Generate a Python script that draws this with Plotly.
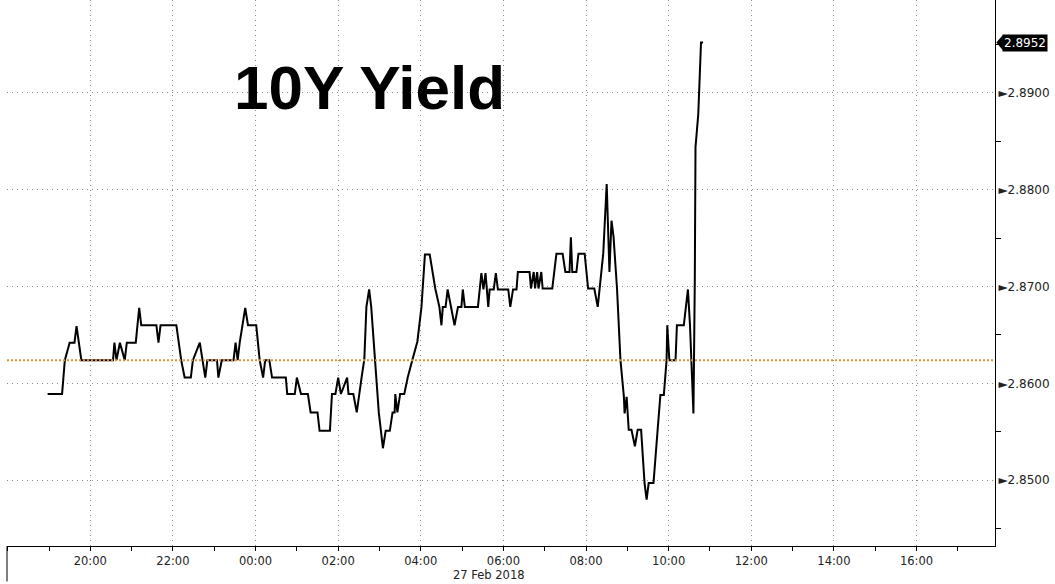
import plotly.graph_objects as go

# intraday 10Y yield, 26-27 Feb 2018
TIMES = [
    "18:58", "19:19", "19:23", "19:30", "19:37", "19:40", "19:47", "20:33", "20:35", "20:38",
    "20:43", "20:50", "20:53", "21:06", "21:11", "21:14", "21:36", "21:39", "21:42", "22:05",
    "22:12", "22:17", "22:26", "22:29", "22:39", "22:47", "22:50", "23:04", "23:06", "23:11",
    "23:28", "23:31", "23:34", "23:37", "23:45", "23:49", "00:01", "00:06", "00:11", "00:14",
    "00:20", "00:24", "00:44", "00:46", "00:57", "01:00", "01:06", "01:16", "01:20", "01:30",
    "01:33", "01:48", "01:51", "01:56", "02:00", "02:04", "02:13", "02:15", "02:22", "02:27",
    "02:34", "02:38", "02:41", "02:45", "02:48", "02:55", "02:59", "03:05", "03:09", "03:15",
    "03:19", "03:22", "03:23", "03:26", "03:30", "03:36", "03:41", "03:48", "03:55", "04:01",
    "04:06", "04:13", "04:21", "04:27", "04:30", "04:32", "04:36", "04:39", "04:44", "04:49",
    "04:54", "04:59", "05:01", "05:04", "05:23", "05:28", "05:31", "05:34", "05:38", "05:40",
    "05:46", "05:49", "05:52", "06:07", "06:10", "06:14", "06:19", "06:21", "06:38", "06:40",
    "06:44", "06:46", "06:49", "06:51", "06:55", "06:57", "07:11", "07:17", "07:26", "07:30",
    "07:36", "07:38", "07:40", "07:46", "07:49", "07:58", "08:03", "08:12", "08:17", "08:20",
    "08:25", "08:30", "08:34", "08:37", "08:40", "08:45", "08:50", "08:55", "08:56", "08:59",
    "09:02", "09:06", "09:11", "09:15", "09:20", "09:25", "09:28", "09:31", "09:38", "09:44",
    "09:48", "09:53", "09:57", "09:58", "10:01", "10:10", "10:12", "10:22", "10:28", "10:31",
    "10:34", "10:36", "10:38", "10:39", "10:43", "10:45", "10:47", "10:50",
]
YIELDS = [
    2.8589, 2.8589, 2.8624, 2.8642, 2.8642, 2.8659, 2.8624, 2.8624, 2.8642, 2.8624,
    2.8642, 2.8624, 2.8642, 2.8642, 2.8678, 2.8660, 2.8660, 2.8642, 2.8660, 2.8660,
    2.8624, 2.8606, 2.8606, 2.8624, 2.8642, 2.8606, 2.8624, 2.8624, 2.8606, 2.8624,
    2.8624, 2.8642, 2.8624, 2.8642, 2.8678, 2.8660, 2.8660, 2.8624, 2.8606, 2.8624,
    2.8624, 2.8606, 2.8606, 2.8589, 2.8589, 2.8606, 2.8589, 2.8589, 2.8570, 2.8570,
    2.8551, 2.8551, 2.8589, 2.8589, 2.8606, 2.8589, 2.8606, 2.8589, 2.8589, 2.8570,
    2.8606, 2.8625, 2.8679, 2.8697, 2.8679, 2.8606, 2.8570, 2.8533, 2.8551, 2.8551,
    2.8570, 2.8570, 2.8589, 2.8570, 2.8589, 2.8589, 2.8606, 2.8625, 2.8643, 2.8679,
    2.8733, 2.8733, 2.8698, 2.8679, 2.8660, 2.8679, 2.8679, 2.8697, 2.8679, 2.8660,
    2.8679, 2.8679, 2.8697, 2.8679, 2.8679, 2.8714, 2.8697, 2.8714, 2.8679, 2.8697,
    2.8697, 2.8714, 2.8697, 2.8697, 2.8679, 2.8697, 2.8697, 2.8715, 2.8715, 2.8698,
    2.8715, 2.8698, 2.8715, 2.8698, 2.8715, 2.8698, 2.8698, 2.8734, 2.8734, 2.8715,
    2.8715, 2.8751, 2.8715, 2.8715, 2.8734, 2.8734, 2.8698, 2.8698, 2.8679, 2.8698,
    2.8734, 2.8806, 2.8715, 2.8768, 2.8751, 2.8698, 2.8624, 2.8586, 2.8569, 2.8586,
    2.8552, 2.8552, 2.8535, 2.8552, 2.8552, 2.8497, 2.8480, 2.8497, 2.8497, 2.8552,
    2.8588, 2.8588, 2.8624, 2.8660, 2.8624, 2.8624, 2.8660, 2.8660, 2.8697, 2.8660,
    2.8605, 2.8569, 2.8707, 2.8844, 2.8878, 2.8925, 2.8952, 2.8952,
]
REF_LEVEL = 2.8624          # orange dotted line
Y_TICKS = [2.85, 2.86, 2.87, 2.88, 2.89]
Y_MINOR = [2.845, 2.855, 2.865, 2.875, 2.885, 2.895]
X_RANGE = ["2018-02-26 17:59", "2018-02-27 17:54"]
Y_RANGE = [2.8432, 2.8996]
TITLE = "10Y Yield"
DATE_LABEL = "27 Feb 2018"

# session starts the evening before
fechas = [("2018-02-26 " if int(t[:2]) >= 18 else "2018-02-27 ") + t for t in TIMES]
ultimo = YIELDS[-1]

FONT = "DejaVu Sans"
GRID = "#8a8a8a"

fig = go.Figure()
fig.add_trace(go.Scatter(x=fechas, y=YIELDS, mode="lines",
                         line=dict(color="black", width=2), showlegend=False,
                         hovertemplate="%{x|%H:%M}<br>%{y:.4f}<extra></extra>"))

fig.add_hline(y=REF_LEVEL, line=dict(color="#dd9233", width=2, dash="2px,2px"))

# etiqueta del ultimo valor
fig.add_annotation(x=1, xref="paper", y=ultimo, yref="y", xanchor="left", yanchor="middle",
                   xshift=7, text=f"{ultimo:.4f}", showarrow=False, bgcolor="black",
                   borderpad=1, font=dict(family=FONT, size=12, color="white"))
h = 0.00078
fig.add_shape(type="path", xref="paper", yref="y", line_width=0, fillcolor="black",
              path=f"M 1.0013,{ultimo} L 1.0080,{ultimo + h} L 1.0080,{ultimo - h} Z")

fig.add_annotation(x=0.367, y=0.84, xref="paper", yref="paper", text=f"<b>{TITLE}</b>",
                   showarrow=False, xanchor="center", yanchor="middle",
                   font=dict(family="Liberation Sans", size=62, color="black"))
fig.add_annotation(x=0.488, y=-0.053, xref="paper", yref="paper", text=DATE_LABEL,
                   showarrow=False, xanchor="center", yanchor="middle",
                   font=dict(family=FONT, size=11.5, color="#222"))
# separador de fecha bajo el eje
fig.add_shape(type="line", xref="paper", yref="paper", x0=0, x1=0, y0=0, y1=-0.065,
              line=dict(color="black", width=1))

fig.update_xaxes(range=X_RANGE, type="date", tick0="2018-02-26 20:00", dtick=7200000,
                 tickformat="%H:%M", ticks="outside", ticklen=4, tickcolor="black",
                 minor=dict(dtick=3600000, ticks="outside", ticklen=4, tickcolor="black",
                            showgrid=False),
                 showline=True, linecolor="black", linewidth=1,
                 showgrid=True, gridcolor=GRID, gridwidth=1, griddash="1px,4px",
                 zeroline=False, tickfont=dict(family=FONT, size=11.5, color="#222"))
fig.update_yaxes(range=Y_RANGE, side="right", tickmode="array", tickvals=Y_TICKS,
                 ticktext=[f"►{v:.4f}" for v in Y_TICKS],
                 ticks="", showline=True, linecolor="black", linewidth=1,
                 minor=dict(tickmode="array", tickvals=Y_MINOR, ticks="outside", ticklen=5,
                            tickcolor="black", showgrid=False),
                 showgrid=True, gridcolor=GRID, gridwidth=1, griddash="1px,4px",
                 zeroline=False, tickfont=dict(family=FONT, size=12, color="#222"))

fig.update_layout(width=1055, height=584, margin=dict(l=7, r=60, t=0, b=38),
                  plot_bgcolor="white", paper_bgcolor="white")
# sin margen del body para que la figura quede en 0,0
fig.write_html("out.html", config={"displayModeBar": False},
               post_script="document.body.style.margin='0';")
